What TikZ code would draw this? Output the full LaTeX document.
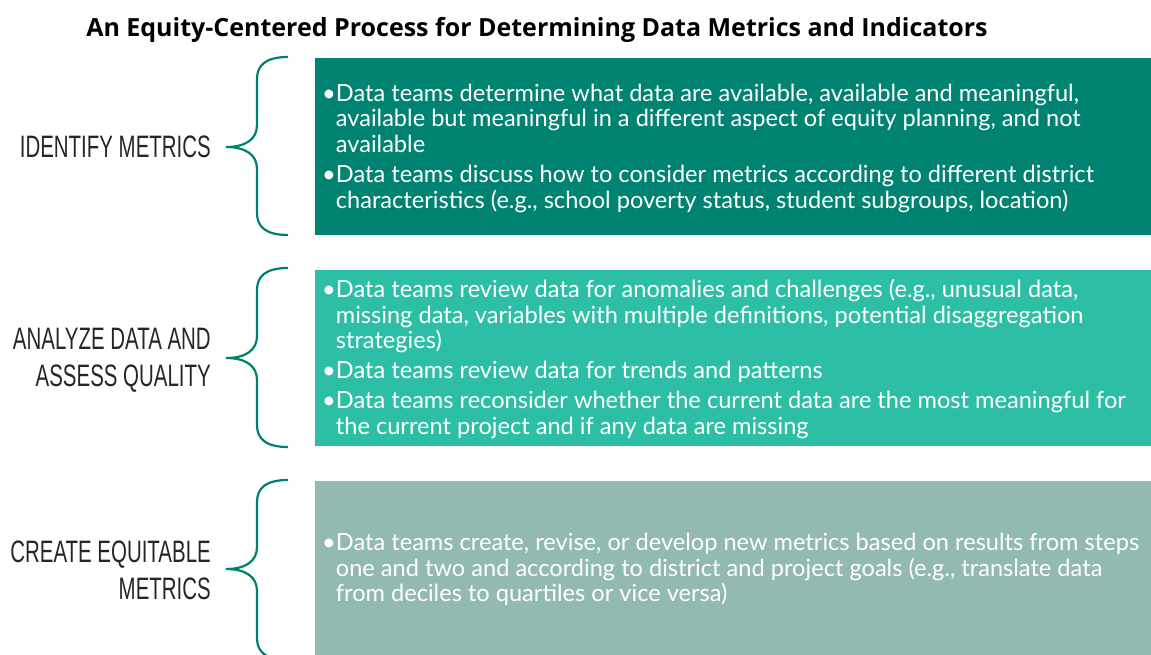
\documentclass[tikz,border=0pt]{standalone}
\usepackage{fontspec}
\setmainfont{Lato}
\newfontfamily\titlefont{Open Sans}
\newfontfamily\stagefont[FakeStretch=0.66]{Liberation Sans}

\definecolor{stepone}{RGB}{0,131,113}
\definecolor{steptwo}{RGB}{45,191,166}
\definecolor{stepthree}{RGB}{147,186,178}
\definecolor{bracegreen}{RGB}{0,128,110}
\definecolor{labelgray}{RGB}{38,38,38}

\begin{document}
\begin{tikzpicture}[x=1pt, y=-1pt,
        box/.style={anchor=north west, inner sep=0pt, outer sep=0pt, minimum width=836pt},
        stage/.style={align=right, inner sep=0pt, text=labelgray, font=\stagefont\fontsize{31}{37}\selectfont},
        points/.style={anchor=north west, align=left, inner sep=0pt, text=white, font=\fontsize{23.6}{25.5}\selectfont},
        brace/.style={draw=bracegreen, line width=2.2pt}]
        \useasboundingbox (0,0) rectangle (1151,654);

        \node[anchor=base, inner sep=0pt, font=\titlefont\bfseries\fontsize{25}{28}\selectfont] (title) at (537,36)
            {An Equity-Centered Process for Determining Data Metrics and Indicators};

        \node[box, fill=stepone, minimum height=176.5pt] (identify) at (315,58) {};
        \node[box, fill=steptwo, minimum height=176pt] (analyze) at (315,270) {};
        \node[box, fill=stepthree, minimum height=180pt] (create) at (315,481) {};

        \node[stage, anchor=base east] (identifylabel) at (211,157) {IDENTIFY METRICS};
        \node[stage, anchor=north east] (analyzelabel) at (211,328) {ANALYZE DATA AND\\ASSESS QUALITY};
        \node[stage, anchor=north east] (createlabel) at (211,541) {CREATE EQUITABLE\\METRICS};

        \draw[brace] (288,57) .. controls (266,57) and (257,65) .. (257,79) -- (257,125)
            .. controls (257,139) and (246,147) .. (226,147) .. controls (246,147) and (257,155) .. (257,169)
            -- (257,213) .. controls (257,227) and (266,235) .. (288,235);
        \draw[brace] (288,268) .. controls (266,268) and (257,276) .. (257,290) -- (257,336)
            .. controls (257,350) and (246,358) .. (226,358) .. controls (246,358) and (257,366) .. (257,380)
            -- (257,425) .. controls (257,439) and (266,447) .. (288,447);
        \draw[brace] (288,480) .. controls (266,480) and (257,488) .. (257,502) -- (257,547)
            .. controls (257,561) and (246,569) .. (226,569) .. controls (246,569) and (257,577) .. (257,591)
            -- (257,638) .. controls (257,652) and (266,660) .. (288,660);

        \node[points] (identifytext) at (322,83.5) {%
            \textbullet Data teams determine what data are available, available and meaningful,\\
            \phantom{\textbullet}available but meaningful in a different aspect of equity planning, and not\\
            \phantom{\textbullet}available\\[5pt]
            \textbullet Data teams discuss how to consider metrics according to different district\\
            \phantom{\textbullet}characteristics (e.g., school poverty status, student subgroups, location)};
        \node[points] (analyzetext) at (322,279) {%
            \textbullet Data teams review data for anomalies and challenges (e.g., unusual data,\\
            \phantom{\textbullet}missing data, variables with multiple definitions, potential disaggregation\\
            \phantom{\textbullet}strategies)\\[4pt]
            \textbullet Data teams review data for trends and patterns\\[5pt]
            \textbullet Data teams reconsider whether the current data are the most meaningful for\\
            \phantom{\textbullet}the current project and if any data are missing};
        \node[points] (createtext) at (322,533) {%
            \textbullet Data teams create, revise, or develop new metrics based on results from steps\\
            \phantom{\textbullet}one and two and according to district and project goals (e.g., translate data\\
            \phantom{\textbullet}from deciles to quartiles or vice versa)};
    \end{tikzpicture}
\end{document}
